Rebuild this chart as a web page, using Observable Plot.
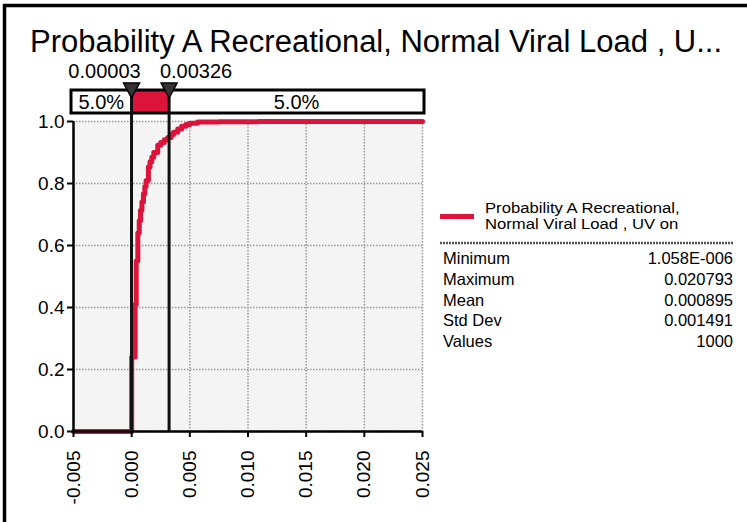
<!DOCTYPE html>
<html>
<head>
<meta charset="utf-8">
<script src="https://cdn.jsdelivr.net/npm/d3@7"></script>
<script src="https://cdn.jsdelivr.net/npm/@observablehq/plot@0.6"></script>
<style>
  body { margin: 0; background: #fff; }
  svg { font-family: "Liberation Sans", Arial, Helvetica, sans-serif; }
</style>
</head>
<body>
<div id="chart"></div>
<script>
// Simulated output: cumulative distribution of the probability
const chartTitle = "Probability A Recreational, Normal Viral Load , U...";
const seriesName = ["Probability A Recreational,", "Normal Viral Load , UV on"];

// Cumulative curve (value, cumulative probability)
const cdfX = [-0.005, 0.0, 0.00024, 0.0003, 0.00039, 0.00053, 0.00065, 0.00076, 0.00088,
              0.00101, 0.00113, 0.00124, 0.00144, 0.00158, 0.00173, 0.0019, 0.00224,
              0.0025, 0.00281, 0.0031, 0.00339, 0.0036, 0.00396, 0.0043, 0.00467,
              0.005, 0.00567, 0.0075, 0.0109, 0.025];
const cdfP = [0.0, 0.24, 0.24, 0.41, 0.55, 0.64, 0.68, 0.714, 0.74,
              0.767, 0.79, 0.81, 0.853, 0.87, 0.885, 0.9, 0.923,
              0.932, 0.941, 0.948, 0.958, 0.965, 0.976, 0.985, 0.99,
              0.994, 0.998, 0.999, 1.0, 1.0];

// Delimiters (5% / 95%) and the band labels
const percentileValues = [0.00003, 0.00326];
const percentileLabels = ["0.00003", "0.00326"];
const bandLabels = ["5.0%", "", "5.0%"];

// Summary statistics
const statNames = ["Minimum", "Maximum", "Mean", "Std Dev", "Values"];
const statValues = ["1.058E-006", "0.020793", "0.000895", "0.001491", "1000"];

// Axes
const xDomain = [-0.005, 0.025];
const xTicks = [-0.005, 0.000, 0.005, 0.010, 0.015, 0.020, 0.025];
const yTicks = [0.0, 0.2, 0.4, 0.6, 0.8, 1.0];

const RED = "#dc143c";
const cdf = cdfX.map((x, i) => ({x, p: cdfP[i]}));

// Draws the frame, title, delimiter band and the legend/statistics panel
function decorations(index, scales, values, dims) {
  const x = scales.x;
  const g = d3.create("svg:g").attr("text-anchor", "start");
  const top = dims.marginTop;
  const bottom = dims.height - dims.marginBottom;
  const xl = x(xDomain[0]) - 2, xr = x(xDomain[1]) + 2;
  const px = percentileValues.map(x);

  // outer frame
  g.append("rect").attr("x", 4.5).attr("y", 5.5).attr("width", 900).attr("height", 700)
    .attr("fill", "none").attr("stroke", "#000").attr("stroke-width", 3.5);

  // title
  g.append("text").attr("x", 30).attr("y", 52).attr("font-size", 31).attr("fill", "#000")
    .text(chartTitle);

  // delimiter band
  const bandTop = top - 31, bandH = 23;
  g.append("rect").attr("x", px[0]).attr("y", bandTop).attr("width", px[1] - px[0]).attr("height", bandH)
    .attr("fill", RED);
  g.append("rect").attr("x", xl).attr("y", bandTop).attr("width", xr - xl).attr("height", bandH)
    .attr("fill", "none").attr("stroke", "#000").attr("stroke-width", 3);
  const segs = [[xl, px[0]], [px[0], px[1]], [px[1], xr]];
  segs.forEach(([a, b], i) => {
    if (!bandLabels[i]) return;
    g.append("text").attr("x", (a + b) / 2).attr("y", bandTop + bandH - 4)
      .attr("text-anchor", "middle").attr("font-size", 20).attr("fill", "#000").text(bandLabels[i]);
  });

  // delimiter lines, markers and their values
  px.forEach((p, i) => {
    g.append("line").attr("x1", p).attr("x2", p).attr("y1", bandTop).attr("y2", bottom)
      .attr("stroke", "#111").attr("stroke-width", 3);
    g.append("path").attr("d", `M${p - 8},${bandTop - 7}L${p + 8},${bandTop - 7}L${p},${bandTop + 8}Z`)
      .attr("fill", "#333").attr("stroke", "#000").attr("stroke-width", 1.5);
    g.append("text").attr("x", p + (i === 0 ? -27 : 27)).attr("y", bandTop - 12)
      .attr("text-anchor", "middle").attr("font-size", 20).attr("fill", "#000").text(percentileLabels[i]);
  });

  // legend: swatch and the series name on two lines (slightly widened face)
  const lx = 440, rx = 734;
  g.append("line").attr("x1", lx).attr("x2", lx + 34).attr("y1", 216.5).attr("y2", 216.5)
    .attr("stroke", RED).attr("stroke-width", 5);
  seriesName.forEach((s, i) => {
    g.append("text").attr("transform", `translate(485,${212.5 + i * 16.5}) scale(1.09,1)`)
      .attr("font-size", 15.3).attr("fill", "#000").text(s);
  });
  g.append("line").attr("x1", lx).attr("x2", rx).attr("y1", 243).attr("y2", 243)
    .attr("stroke", "#555").attr("stroke-width", 2.5).attr("stroke-dasharray", "2,1");

  // statistics
  statNames.forEach((s, i) => {
    const y = 264 + i * 20.8;
    g.append("text").attr("x", 443).attr("y", y).attr("font-size", 16.5).attr("fill", "#000").text(s);
    g.append("text").attr("x", rx - 1).attr("y", y).attr("text-anchor", "end").attr("font-size", 16.5)
      .attr("fill", "#000").text(statValues[i]);
  });
  return g.node();
}

const chart = Plot.plot({
  width: 747,
  height: 522,
  marginLeft: 73,
  marginRight: 325,
  marginTop: 121,
  marginBottom: 91,
  style: {background: "#fff", color: "#000"},
  x: {domain: xDomain, label: null},
  y: {domain: [0, 1], label: null},
  marks: [
    Plot.frame({fill: "#f4f4f4", stroke: null}),
    Plot.gridX(xTicks, {stroke: "#999", strokeOpacity: 1, strokeWidth: 1.5, strokeDasharray: "1.5,1.5"}),
    Plot.gridY(yTicks, {stroke: "#999", strokeOpacity: 1, strokeWidth: 1.5, strokeDasharray: "1.5,1.5"}),
    Plot.line(cdf, {x: "x", y: "p", curve: "step-after", stroke: RED, strokeWidth: 5}),
    Plot.ruleX([xDomain[0]], {stroke: "#000", strokeWidth: 2.5}),
    Plot.ruleY([0], {stroke: "#000", strokeWidth: 2.5}),
    Plot.axisY(yTicks, {tickFormat: d => d.toFixed(1), tickSize: 6, tickPadding: 3, fontSize: 19, strokeWidth: 2, label: null}),
    Plot.axisX(xTicks, {tickFormat: d => d.toFixed(3), tickRotate: -90, tickSize: 6, tickPadding: 13, fontSize: 19, strokeWidth: 2, label: null}),
    decorations
  ]
});

document.getElementById("chart").appendChild(chart);
</script>
</body>
</html>
